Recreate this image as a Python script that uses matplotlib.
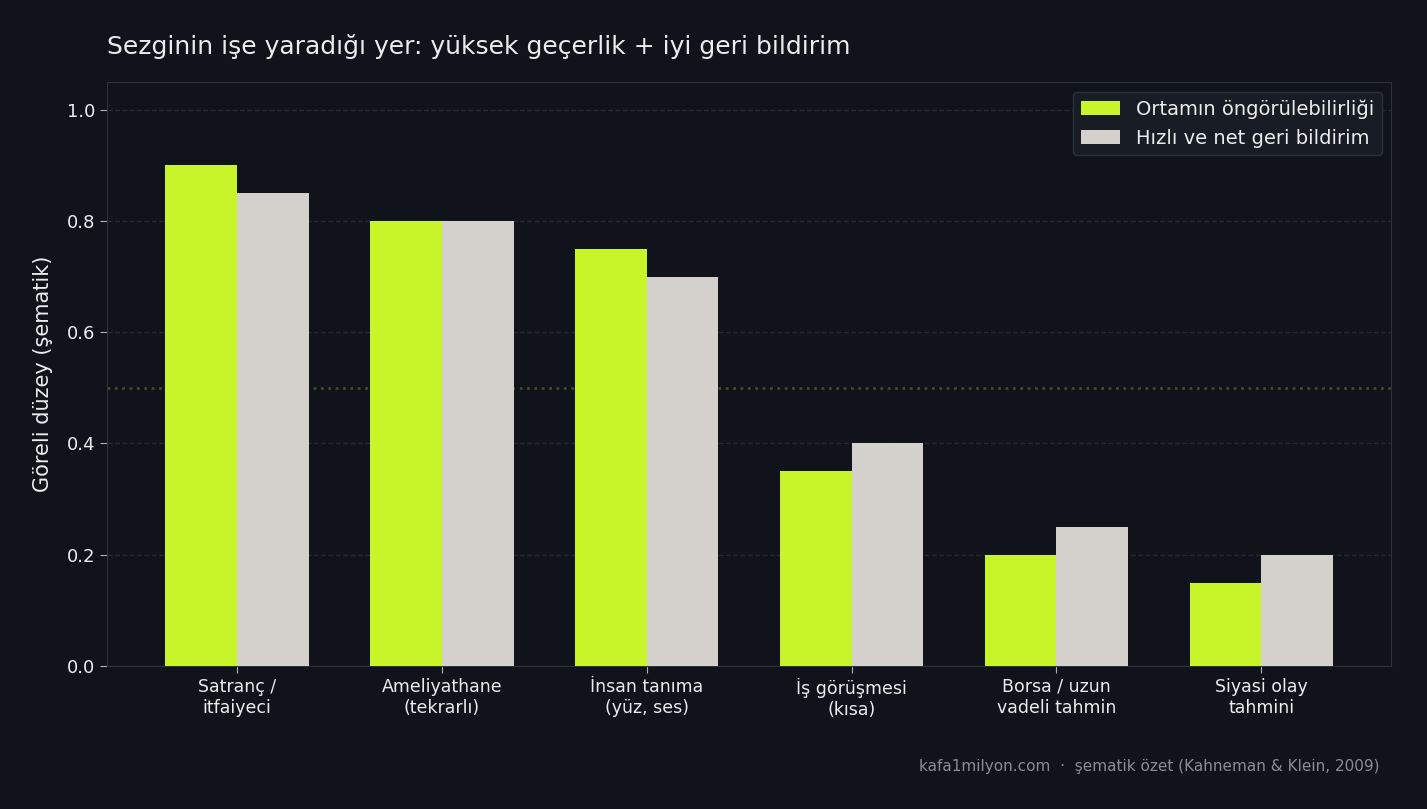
import matplotlib
matplotlib.use("Agg")
import matplotlib.pyplot as plt
import numpy as np

plt.rcParams['font.family'] = ['DejaVu Sans']

# veriler
categories = ["Satranç /\nitfaiyeci", "Ameliyathane\n(tekrarlı)", "İnsan tanıma\n(yüz, ses)",
              "İş görüşmesi\n(kısa)", "Borsa / uzun\nvadeli tahmin", "Siyasi olay\ntahmini"]
predictability = [0.90, 0.80, 0.75, 0.35, 0.20, 0.15]
feedback = [0.85, 0.80, 0.70, 0.40, 0.25, 0.20]
series_names = ["Ortamın öngörülebilirliği", "Hızlı ve net geri bildirim"]

BG = "#10131a"
GREEN = "#c8f52a"
GREY = "#d4d1cc"
TXT = "#ececec"
SPINE = "#2c313a"

fig = plt.figure(figsize=(14.27, 8.09), dpi=100, facecolor=BG)
ax = fig.add_axes([0.075, 0.1768, 0.9, 0.722])
ax.set_facecolor(BG)

x = np.arange(len(categories))
w = 0.35
ax.bar(x - w/2, predictability, w, color=GREEN, label=series_names[0], zorder=3)
ax.bar(x + w/2, feedback, w, color=GREY, label=series_names[1], zorder=3)

ax.axhline(0.5, color="#3f4d22", linestyle=":", linewidth=2, zorder=1)

ax.set_ylim(0, 1.05)
ax.set_yticks([0, 0.2, 0.4, 0.6, 0.8, 1.0])
ax.set_xticks(x)
ax.set_xticklabels(categories)
ax.tick_params(colors="#b0b0b0", length=5)
ax.tick_params(axis="y", labelsize=13, labelcolor=TXT)
ax.tick_params(axis="x", labelsize=12.5, labelcolor=TXT)
ax.yaxis.grid(True, color="#262b33", linestyle="--", linewidth=1, zorder=0)
for s in ax.spines.values():
    s.set_color(SPINE)

ax.set_ylabel("Göreli düzey (şematik)", fontsize=15, color=TXT, labelpad=10)
ax.set_title("Sezginin işe yaradığı yer: yüksek geçerlik + iyi geri bildirim",
             fontsize=18, color=TXT, loc="left", pad=20)

leg = ax.legend(loc="upper right", fontsize=14, facecolor="#181c24", edgecolor=SPINE,
                labelcolor=TXT, framealpha=1)

fig.text(0.967, 0.047, "kafa1milyon.com  ·  şematik özet (Kahneman & Klein, 2009)",
         ha="right", fontsize=11, color="#8a8d93")

fig.savefig("out.png", facecolor=BG)
